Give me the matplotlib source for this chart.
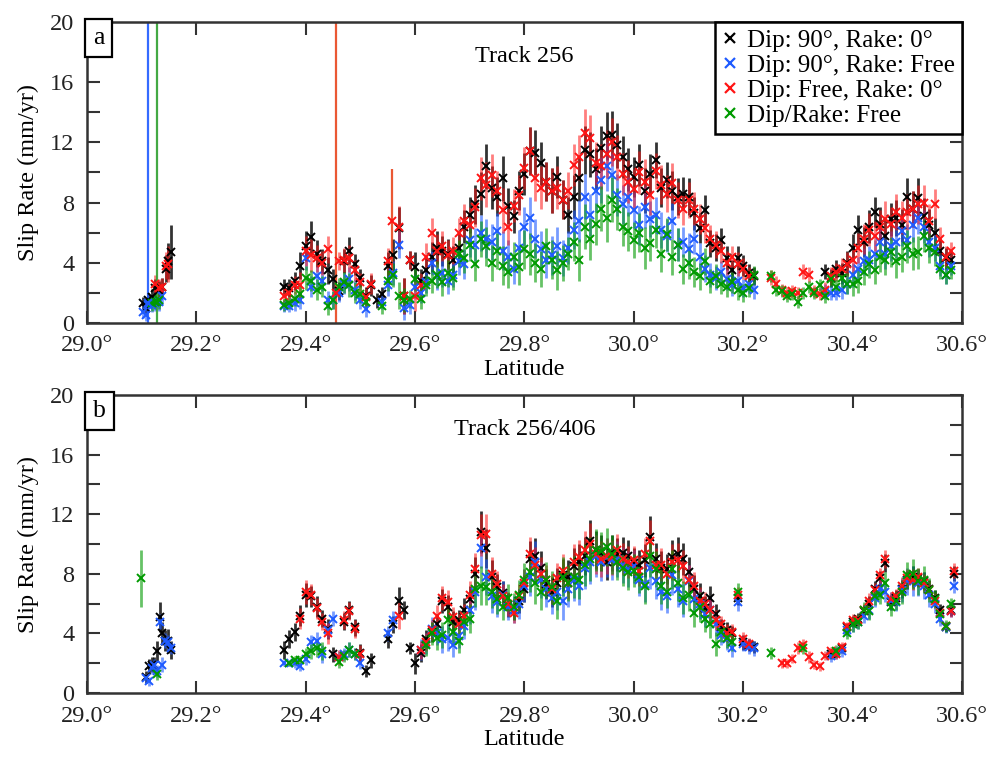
import numpy as np
import matplotlib
matplotlib.use('Agg')
import matplotlib.pyplot as plt
from matplotlib.lines import Line2D
from matplotlib.ticker import MultipleLocator

plt.rcParams['font.family'] = ['Liberation Serif', 'DejaVu Serif']

nan = np.nan

# ---------------- Panel a: Track 256 ----------------
a_lat = [29.103, 29.108, 29.112, 29.118, 29.125, 29.132, 29.137, 29.144, 29.149, 29.154,
         29.36, 29.37, 29.38, 29.39, 29.40, 29.41, 29.42, 29.43, 29.44, 29.45,
         29.46, 29.47, 29.48, 29.49, 29.50, 29.51, 29.52, 29.53, 29.54, 29.55,
         29.56, 29.57, 29.58, 29.59, 29.60,
         29.61, 29.62, 29.63, 29.64, 29.65, 29.66, 29.67, 29.68, 29.69, 29.70,
         29.71, 29.72, 29.73, 29.74, 29.75, 29.76, 29.77, 29.78, 29.79, 29.80,
         29.81, 29.82, 29.83, 29.84, 29.85, 29.86, 29.87, 29.88, 29.89, 29.90,
         29.91, 29.92, 29.93, 29.94, 29.95, 29.96, 29.97, 29.98, 29.99, 30.00,
         30.01, 30.02, 30.03, 30.04, 30.05, 30.06, 30.07, 30.08, 30.09, 30.10,
         30.11, 30.12, 30.13, 30.14, 30.15, 30.16, 30.17, 30.18, 30.19, 30.20,
         30.21, 30.22,
         30.25, 30.26, 30.27, 30.28, 30.29, 30.30, 30.31, 30.32, 30.33, 30.34,
         30.35, 30.36, 30.37, 30.38, 30.39, 30.40, 30.41, 30.42, 30.43, 30.44,
         30.45, 30.46, 30.47, 30.48, 30.49, 30.50, 30.51, 30.52, 30.53, 30.54,
         30.55, 30.56, 30.57, 30.58]

a_dip90_rake0 = [1.3, 1.0, 1.5, 1.75, 2.3, 2.2, 2.4, 3.6, 4.1, 4.7,
                 2.4, 2.3, 2.8, 3.8, 5.1, 5.7, 4.6, 4.1, 3.5, 2.9,
                 2.1, 4.1, 4.8, 3.9, 3.0, 1.8, 2.5, 1.5, 1.9, 3.8,
                 4.5, 6.3, 1.8, 4.2, 3.7,
                 2.8, 3.5, 4.4, 5.0, 4.8, 4.6, 4.2, 5.0, 6.4, 7.2,
                 7.9, 8.6, 10.4, 9.0, 8.4, 9.6, 7.8, 7.1, 8.8, 9.9,
                 11.4, 11.3, 10.6, 9.4, 8.8, 9.7, 8.2, 7.2, 8.4, 9.6,
                 11.5, 11.2, 10.2, 11.6, 12.4, 12.5, 11.8, 11.0, 10.2, 9.7,
                 10.5, 8.8, 9.9, 10.8, 9.0, 9.5, 8.8, 8.4, 8.6, 8.4,
                 7.3, 6.3, 7.5, 5.3, 5.0, 5.5, 4.3, 3.5, 4.3, 3.8,
                 3.3, 3.1,
                 nan, nan, nan, nan, nan, nan, nan, nan, nan, nan,
                 3.4, 3.0, 3.6, 3.3, 4.0, 5.0, 6.2, 5.4, 6.4, 7.4,
                 6.6, 5.8, 6.9, 7.0, 6.5, 8.4, 7.6, 8.3, 7.1, 6.5,
                 6.0, 4.8, 4.3, 4.2]

a_dip90_rakefree = [0.7, 0.5, 1.2, 1.2, 1.3, 1.4, 1.8, nan, nan, nan,
                    1.1, 1.1, 1.3, 1.5, 4.3, 2.4, 3.1, 2.8, 1.5, 1.5,
                    2.0, 2.6, 2.9, 2.2, 1.5, 0.9, nan, nan, 1.4, 2.5,
                    3.3, 5.2, 1.0, 1.2, 2.4,
                    2.0, 2.7, 4.0, 3.1, 3.3, 2.8, 3.2, 4.1, 3.9, 5.5,
                    5.2, 6.0, 5.6, 5.4, 6.1, 4.8, 4.4, 3.6, 5.0, 6.4,
                    7.0, 5.6, 4.9, 4.2, 4.5, 5.1, 4.3, 5.0, 6.2, 6.8,
                    8.4, 7.2, 8.8, 9.5, 10.4, 9.8, 8.5, 7.9, 8.4, 7.5,
                    6.5, 7.7, 6.9, 7.2, 6.2, 5.8, 6.8, 5.2, 5.4, 4.9,
                    5.6, 4.4, 3.6, 3.2, 3.0, 3.4, 2.9, 2.5, 2.8, 2.3,
                    2.6, 2.2,
                    nan, nan, nan, nan, nan, nan, nan, nan, nan, nan,
                    2.1, 2.0, 2.0, 2.2, 2.6, 3.2, 3.6, 4.1, 4.2, 4.6,
                    5.4, 4.6, 5.1, 5.4, 6.1, 5.5, 6.5, 7.0, 6.4, 5.4,
                    5.0, 3.8, 3.2, 3.8]

a_dipfree_rake0 = [nan, nan, nan, nan, 2.6, 2.3, 2.4, 3.8, 3.9, nan,
                   1.8, 2.0, 2.5, 2.5, 4.8, 4.5, 4.3, 4.0, 4.9, nan,
                   4.1, 4.2, 4.3, 3.5, 2.7, 1.7, 2.6, nan, nan, 4.1,
                   nan, 6.4, 1.8, 4.2, 1.8,
                   2.5, 4.4, 6.0, 4.8, 5.1, 4.5, 4.8, 6.0, 6.8, 6.5,
                   7.7, 9.6, 9.2, 9.8, 8.8, 7.5, 6.4, 7.8, 8.5, 10.3,
                   11.4, 9.6, 9.0, 9.4, 8.8, 9.0, 8.2, 8.8, 10.5, 11.0,
                   12.6, 12.3, 10.6, 10.4, 11.2, 12.0, 11.0, 9.9, 9.4, 8.9,
                   10.0, 9.4, 8.5, 10.1, 9.2, 8.6, 9.3, 8.2, 7.6, 8.2,
                   7.6, 6.9, 6.3, 5.6, 5.2, 4.8, 4.0, 4.4, 3.9, 3.6,
                   3.1, nan,
                   3.0, 2.6, 2.2, 2.0, 2.1, 2.0, 3.4, 3.2, 2.1, 1.9,
                   2.2, 3.1, 3.4, 3.6, 3.9, 4.2, 5.0, 5.6, 6.2, 5.8,
                   6.4, 6.9, 6.6, 7.4, 7.0, 7.4, 7.6, 7.9, 8.0, 6.8,
                   7.9, 5.6, 4.4, 4.8]

a_dip_rake_free = [nan, nan, nan, 1.3, 1.4, 1.5, nan, nan, nan, nan,
                   1.2, 1.3, 1.6, 1.9, 3.0, 2.8, 2.2, 2.4, 1.1, 1.5,
                   2.4, 2.7, 2.5, 2.0, 1.9, 1.4, nan, nan, 1.1, 2.8,
                   3.2, 1.8, 1.5, 1.6, 2.9,
                   1.6, 2.5, 2.8, 3.2, 2.7, 3.3, 3.0, 4.6, 4.3, 5.2,
                   3.9, 5.6, 5.1, 4.0, 4.8, 3.8, 3.4, 4.4, 3.7, 4.9,
                   4.6, 4.0, 3.6, 5.1, 4.2, 3.5, 4.0, 4.6, 5.4, 4.2,
                   6.4, 5.6, 6.6, 7.6, 7.0, 8.2, 7.6, 6.4, 6.1, 5.5,
                   6.0, 5.0, 5.3, 6.2, 4.6, 5.9, 4.4, 5.2, 3.6, 4.0,
                   3.4, 3.1, 4.1, 2.8, 3.1, 2.6, 2.4, 2.7, 2.2, 2.0,
                   2.3, 3.2,
                   3.1, 2.2, 2.1, 1.8, 1.9, 1.4, 2.0, 2.4, 2.0, 2.5,
                   1.8, 2.9, 2.4, 3.0, 2.6, 2.6, 2.8, 3.4, 3.9, 3.5,
                   4.4, 4.2, 4.7, 4.1, 4.4, 5.1, 4.6, 4.7, 5.8, 5.0,
                   4.7, 3.6, 3.2, 3.5]

# 1-sigma half-lengths: fixed-rake models (black, red) and free-rake models (blue, green)
a_err_fixed = [0.4, 0.4, 0.5, 0.5, 0.6, 0.6, 0.6, 0.9, 1.2, 1.8,
               0.5, 0.6, 0.6, 0.9, 1.0, 1.1, 0.9, 0.8, 0.9, 0.7,
               0.6, 0.8, 0.9, 0.7, 0.6, 0.6, 0.7, 0.5, 0.5, 0.9,
               1.1, 1.4, 1.2, 0.6, 1.0,
               0.8, 0.9, 1.0, 1.1, 1.0, 1.0, 0.9, 1.0, 1.1, 1.2,
               1.3, 1.4, 1.5, 1.4, 1.3, 1.5, 1.2, 1.1, 1.3, 1.4,
               1.6, 1.5, 1.4, 1.3, 1.5, 1.4, 1.3, 1.2, 1.4, 1.5,
               1.6, 1.5, 1.4, 1.5, 1.6, 1.6, 1.5, 1.4, 1.4, 1.3,
               1.4, 1.5, 1.3, 1.2, 1.3, 1.2, 1.3, 1.2, 1.1, 1.2,
               1.1, 1.0, 1.0, 0.9, 0.9, 0.8, 0.8, 0.7, 0.8, 0.7,
               0.6, 0.6,
               0.5, 0.5, 0.4, 0.4, 0.4, 0.4, 0.5, 0.5, 0.4, 0.4,
               0.5, 0.6, 0.6, 0.7, 0.8, 0.9, 1.0, 1.0, 1.1, 1.0,
               1.1, 1.2, 1.1, 1.2, 1.1, 1.2, 1.2, 1.3, 1.2, 1.1,
               1.0, 0.8, 0.7, 0.6]

a_err_free = [0.4, 0.4, 0.5, 0.5, 0.5, 0.6, 0.6, 0.6, 0.7, 0.8,
              0.4, 0.4, 0.5, 0.6, 0.8, 0.7, 0.7, 0.7, 0.6, 0.6,
              0.6, 0.7, 0.8, 0.7, 0.6, 0.5, 0.5, 0.5, 0.5, 0.7,
              0.8, 0.9, 0.8, 0.6, 0.8,
              0.7, 0.7, 0.8, 0.9, 0.9, 0.9, 0.8, 0.9, 1.0, 1.1,
              1.1, 1.2, 1.3, 1.2, 1.2, 1.3, 1.1, 1.0, 1.2, 1.3,
              1.4, 1.3, 1.2, 1.2, 1.3, 1.3, 1.2, 1.1, 1.3, 1.4,
              1.5, 1.4, 1.4, 1.5, 1.6, 1.5, 1.4, 1.3, 1.3, 1.2,
              1.3, 1.4, 1.2, 1.2, 1.2, 1.1, 1.2, 1.1, 1.0, 1.1,
              1.0, 0.9, 0.9, 0.8, 0.8, 0.7, 0.7, 0.7, 0.7, 0.6,
              0.6, 0.6,
              0.4, 0.4, 0.4, 0.4, 0.4, 0.4, 0.4, 0.4, 0.4, 0.4,
              0.5, 0.5, 0.5, 0.6, 0.7, 0.8, 0.8, 0.9, 0.9, 0.9,
              1.0, 1.0, 1.0, 1.1, 1.0, 1.1, 1.1, 1.1, 1.1, 1.0,
              0.9, 0.7, 0.6, 0.6]

# poorly constrained points (very long error bars)
a_spike_lat = [29.111, 29.128, 29.455, 29.558]
a_spike_val = [1.3, 1.4, 2.0, 6.8]
a_spike_err = [30.0, 30.0, 30.0, 3.4]
a_spike_model = [1, 3, 2, 2]

# ---------------- Panel b: Track 256/406 ----------------
b_lat = [29.099, 29.108, 29.113, 29.118, 29.123, 29.128, 29.133, 29.138, 29.143, 29.148, 29.153,
         29.36, 29.37, 29.38, 29.39, 29.40, 29.41, 29.42, 29.43, 29.44, 29.45,
         29.46, 29.47, 29.48, 29.49, 29.50, 29.51, 29.52, 29.53, 29.54, 29.55,
         29.56, 29.57, 29.58, 29.59, 29.60,
         29.61, 29.62, 29.63, 29.64, 29.65, 29.66, 29.67, 29.68, 29.69, 29.70,
         29.71, 29.72, 29.73, 29.74, 29.75, 29.76, 29.77, 29.78, 29.79, 29.80,
         29.81, 29.82, 29.83, 29.84, 29.85, 29.86, 29.87, 29.88, 29.89, 29.90,
         29.91, 29.92, 29.93, 29.94, 29.95, 29.96, 29.97, 29.98, 29.99, 30.00,
         30.01, 30.02, 30.03, 30.04, 30.05, 30.06, 30.07, 30.08, 30.09, 30.10,
         30.11, 30.12, 30.13, 30.14, 30.15, 30.16, 30.17, 30.18, 30.19, 30.20,
         30.21, 30.22,
         30.25, 30.26, 30.27, 30.28, 30.29, 30.30, 30.31, 30.32, 30.33, 30.34,
         30.35, 30.36, 30.37, 30.38, 30.39, 30.40, 30.41, 30.42, 30.43, 30.44,
         30.45, 30.46, 30.47, 30.48, 30.49, 30.50, 30.51, 30.52, 30.53, 30.54,
         30.55, 30.56, 30.57, 30.58, 30.585]

b_dip90_rake0 = [nan, 1.1, 1.8, 1.9, 1.9, 2.8, 5.1, 4.0, 3.5, 3.5, 2.9,
                 2.9, 3.6, 4.1, 5.2, 6.6, 6.5, 5.8, 5.0, 4.3, 2.6,
                 nan, 4.8, 5.6, 4.4, 2.7, 1.5, 2.2, nan, nan, 3.6,
                 4.6, 6.2, 5.6, 3.0, 2.0,
                 2.7, 3.6, 4.1, 4.6, 6.2, 5.8, 4.8, 4.9, 5.6, 6.3,
                 8.0, 10.8, 9.7, 7.8, 7.1, 6.7, 5.9, 5.6, 6.2, 7.0,
                 9.0, 9.2, 8.4, 7.3, 6.8, 7.4, 7.9, 7.8, 8.5, 8.8,
                 9.2, 10.2, 9.6, 9.4, 8.8, 9.4, 9.3, 9.4, 9.2, 8.7,
                 8.6, 8.9, 10.5, 9.0, 8.4, 8.3, 9.1, 9.3, 9.0, 8.1,
                 7.0, 6.5, 5.7, 6.4, 5.3, 4.4, 4.2, 4.0, 6.4, 3.4,
                 3.2, 3.1,
                 nan, nan, nan, nan, nan, nan, nan, nan, nan, nan,
                 nan, 2.6, 2.7, 3.0, 4.4, 4.8, 5.0, 5.5, 6.0, 7.0,
                 7.7, 8.7, 6.1, 6.4, 7.0, 7.6, 7.8, 7.7, 7.5, 7.0,
                 6.4, 5.6, 4.4, 5.6, 8.0]

b_dip90_rakefree = [nan, 1.0, 0.8, 1.7, 1.9, 1.5, 4.8, 1.9, 3.5, 3.4, 3.0,
                    2.0, 2.0, 2.0, 1.8, 2.3, 3.4, 3.5, 2.6, 4.2, 5.0,
                    2.4, 2.6, 2.9, 2.6, 2.0, nan, nan, nan, nan, 4.0,
                    4.9, nan, nan, nan, nan,
                    2.9, 3.3, 4.3, 4.0, 3.6, 3.7, 3.2, 3.8, 4.5, 5.6,
                    6.8, 9.7, 7.8, 6.5, 6.1, 6.6, 5.8, 5.6, 6.0, 7.2,
                    7.8, 8.8, 7.6, 7.0, 6.4, 6.8, 6.2, 7.0, 7.6, 7.2,
                    8.4, 8.8, 9.2, 8.8, 9.1, 8.9, 9.0, 8.6, 8.3, 8.5,
                    7.6, 7.3, 8.4, 7.5, 6.8, 6.5, 7.9, 7.0, 6.2, 7.5,
                    6.3, 6.0, 5.3, 5.6, 4.6, 3.9, 3.6, 3.0, 6.1, 3.3,
                    3.1, 3.0,
                    nan, nan, nan, nan, nan, nan, nan, nan, nan, nan,
                    nan, 2.5, 2.7, 2.8, 4.2, 4.6, 4.8, 5.2, 5.6, 6.4,
                    7.0, 6.8, 6.2, 6.1, 6.9, 7.5, 7.5, 7.4, 7.2, 6.6,
                    6.0, 5.0, 4.4, 5.5, 7.2]

b_dipfree_rake0 = [nan, nan, nan, nan, nan, nan, nan, nan, nan, nan, nan,
                   nan, nan, nan, 5.0, 6.8, 6.6, 5.7, 4.8, 4.0, nan,
                   2.4, 4.9, 5.5, 4.3, 2.6, nan, nan, nan, nan, nan,
                   nan, 5.2, nan, nan, nan,
                   2.9, 3.4, 4.2, 5.2, 6.4, 6.1, 5.1, 4.6, 5.2, 6.6,
                   8.3, 10.6, 10.7, 8.0, 7.3, 6.5, 6.0, 5.4, 6.5, 7.4,
                   9.3, 8.6, 8.0, 7.6, 7.0, 7.7, 8.2, 7.4, 8.8, 9.1,
                   9.6, 10.0, 9.3, 9.0, 9.2, 9.1, 9.6, 9.0, 8.8, 8.9,
                   8.2, 9.3, 10.2, 8.6, 8.6, 8.0, 8.8, 8.9, 8.5, 7.6,
                   7.2, 6.2, 6.0, 5.6, 4.9, 4.6, 4.0, 4.1, 6.6, 3.6,
                   3.3, nan,
                   nan, nan, 2.0, 2.0, 2.3, 3.0, 3.2, 2.4, 1.9, 1.8,
                   2.5, 2.8, 2.6, 3.1, 4.5, 4.9, 4.9, 5.6, 6.2, 6.9,
                   7.9, 9.0, 6.3, 6.5, 7.2, 7.7, 7.6, 7.8, 7.4, 6.9,
                   6.2, 5.4, 4.5, 5.5, 8.2]

b_dip_rake_free = [7.7, nan, nan, nan, nan, 1.3, nan, nan, nan, nan, nan,
                   nan, 2.0, 2.2, 2.2, 2.6, 2.8, 3.0, 2.8, nan, nan,
                   2.1, 2.5, 2.9, 2.6, nan, nan, nan, nan, nan, nan,
                   nan, nan, nan, nan, nan,
                   nan, 3.2, 4.0, 3.7, 3.9, 4.9, 4.1, 3.5, 4.8, 5.0,
                   7.0, 7.2, 7.1, 6.8, 6.3, 5.8, 6.4, 5.8, 6.6, 7.6,
                   8.1, 7.4, 6.8, 7.6, 7.1, 6.2, 7.8, 7.4, 7.8, 7.6,
                   8.6, 9.0, 9.6, 9.5, 9.8, 9.3, 8.8, 8.4, 8.1, 8.2,
                   7.8, 7.2, 9.2, 8.3, 7.2, 6.8, 8.3, 7.4, 6.4, 6.6,
                   5.4, 5.8, 5.0, 4.6, 3.3, 4.1, 3.7, 3.4, 6.8, nan,
                   nan, nan,
                   2.7, nan, nan, nan, nan, nan, 3.0, nan, nan, nan,
                   nan, nan, 2.8, nan, 4.0, 4.6, 4.8, 5.6, 5.5, 6.5,
                   6.6, 7.4, 5.8, 6.2, 6.8, 7.9, 8.0, 7.5, 7.6, 6.9,
                   6.3, 5.3, 4.5, 6.0, nan]

b_err_fixed = [0.5, 0.4, 0.5, 0.5, 0.5, 0.7, 1.0, 0.8, 0.7, 0.8, 0.6,
               0.6, 0.6, 0.6, 0.7, 0.8, 0.7, 0.7, 0.6, 0.7, 0.5,
               0.5, 0.6, 0.6, 0.6, 0.6, 0.4, 0.5, 0.4, 0.4, 0.6,
               0.6, 0.9, 0.6, 0.4, 0.7,
               0.6, 0.6, 0.7, 0.7, 0.8, 0.8, 0.7, 0.7, 0.8, 0.9,
               1.1, 1.4, 1.3, 1.1, 0.9, 0.8, 0.8, 0.7, 0.8, 0.9,
               1.2, 1.2, 1.1, 1.0, 1.0, 1.0, 1.1, 1.1, 1.2, 1.2,
               1.3, 1.4, 1.3, 1.2, 1.2, 1.2, 1.1, 1.1, 1.1, 1.0,
               1.0, 1.1, 1.4, 1.1, 1.1, 1.0, 1.2, 1.2, 1.1, 1.0,
               0.9, 0.9, 0.8, 0.8, 0.7, 0.6, 0.6, 0.5, 0.5, 0.5,
               0.4, 0.4,
               0.3, 0.3, 0.3, 0.3, 0.3, 0.4, 0.4, 0.4, 0.3, 0.3,
               0.3, 0.3, 0.3, 0.3, 0.3, 0.4, 0.4, 0.4, 0.5, 0.5,
               0.5, 0.6, 0.5, 0.5, 0.6, 0.6, 0.7, 0.6, 0.6, 0.6,
               0.5, 0.4, 0.3, 0.4, 0.5]

b_err_free = [1.9, 0.3, 0.3, 0.4, 0.4, 0.4, 0.5, 0.5, 0.5, 0.5, 0.4,
              0.2, 0.2, 0.3, 0.3, 0.4, 0.5, 0.6, 0.6, 0.5, 0.5,
              0.4, 0.4, 0.5, 0.4, 0.4, 0.3, 0.3, 0.3, 0.3, 0.5,
              0.6, 0.6, 0.4, 0.3, 0.4,
              0.7, 0.7, 0.8, 0.8, 0.9, 0.9, 0.8, 0.8, 0.9, 1.0,
              1.2, 1.3, 1.2, 1.1, 1.0, 0.9, 0.9, 0.9, 1.0, 1.1,
              1.3, 1.4, 1.2, 1.2, 1.1, 1.2, 1.3, 1.2, 1.4, 1.3,
              1.4, 1.5, 1.4, 1.3, 1.3, 1.3, 1.2, 1.2, 1.2, 1.1,
              1.1, 1.2, 1.4, 1.2, 1.2, 1.1, 1.3, 1.2, 1.1, 1.1,
              1.0, 1.0, 0.9, 0.9, 0.8, 0.7, 0.7, 0.6, 0.6, 0.5,
              0.5, 0.5,
              0.4, 0.4, 0.4, 0.4, 0.4, 0.4, 0.4, 0.4, 0.4, 0.4,
              0.4, 0.4, 0.4, 0.4, 0.4, 0.5, 0.5, 0.5, 0.6, 0.6,
              0.6, 0.7, 0.6, 0.6, 0.8, 0.9, 1.0, 0.9, 0.9, 0.8,
              0.6, 0.5, 0.4, 0.4, 0.5]

model_labels = ['Dip: 90°, Rake: 0°', 'Dip: 90°, Rake: Free',
                'Dip: Free, Rake: 0°', 'Dip/Rake: Free']
x_ticks = [29.0, 29.2, 29.4, 29.6, 29.8, 30.0, 30.2, 30.4, 30.6]
y_ticks = [0, 4, 8, 12, 16, 20]

# ---------------- styling ----------------
colors = ['#000000', '#1f5bff', '#ff1414', '#009a00']
spike_colors = ['#000000', '#1f5bff', '#e8461e', '#30a030']
bar_alpha = [0.8, 0.6, 0.55, 0.6]
FS = 17.5

fig = plt.figure(figsize=(10.02, 7.63), dpi=100)
ax_a = fig.add_axes([0.0868, 0.5767, 0.8733, 0.3945])
ax_b = fig.add_axes([0.0868, 0.0917, 0.8733, 0.3906])


def draw_panel(ax, lat, series, errs, spikes=None):
    lat = np.asarray(lat, float)
    for s in series:
        assert len(s) == len(lat), (len(s), len(lat))
    for e in errs:
        assert len(e) == len(lat), (len(e), len(lat))
    err_for = [errs[0], errs[1], errs[0], errs[1]]
    # draw order: green, blue, red, black (black on top)
    for idx in [3, 1, 2, 0]:
        v = np.asarray(series[idx], float)
        e = np.asarray(err_for[idx], float)
        ax.errorbar(lat, v, yerr=e, fmt='none', ecolor=colors[idx],
                    elinewidth=2.0, alpha=bar_alpha[idx], capsize=0, zorder=2 + idx * 0.1)
        ax.plot(lat, v, 'x', color=colors[idx], ms=5.5, mew=1.4, zorder=3 + idx * 0.1)
    if spikes is not None:
        for sl, sv, se, sm in zip(*spikes):
            ax.errorbar([sl], [sv], yerr=[se], fmt='none', ecolor=spike_colors[sm],
                        elinewidth=1.6, alpha=0.9, capsize=0, zorder=2.5)
            ax.plot([sl], [sv], 'x', color=colors[sm], ms=5.5, mew=1.4, zorder=3.5)


draw_panel(ax_a, a_lat,
           [a_dip90_rake0, a_dip90_rakefree, a_dipfree_rake0, a_dip_rake_free],
           [a_err_fixed, a_err_free],
           spikes=(a_spike_lat, a_spike_val, a_spike_err, a_spike_model))
draw_panel(ax_b, b_lat,
           [b_dip90_rake0, b_dip90_rakefree, b_dipfree_rake0, b_dip_rake_free],
           [b_err_fixed, b_err_free])

for ax, letter, title in [(ax_a, 'a', 'Track 256'), (ax_b, 'b', 'Track 256/406')]:
    ax.set_xlim(29.0, 30.6)
    ax.set_ylim(0, 20)
    ax.set_xticks(x_ticks)
    ax.set_xticklabels([f'{t:.1f}°' for t in x_ticks])
    ax.set_yticks(y_ticks)
    ax.yaxis.set_minor_locator(MultipleLocator(2))
    ax.tick_params(which='both', direction='in', top=True, right=True,
                   length=9, width=1.5, color='#333333', labelsize=FS,
                   labelcolor='#222222')
    ax.tick_params(axis='x', pad=9)
    ax.tick_params(axis='y', pad=9)
    for sp in ax.spines.values():
        sp.set_linewidth(1.8)
        sp.set_color('#333333')
    ax.set_xlabel('Latitude', fontsize=FS, labelpad=2)
    ax.set_ylabel('Slip Rate (mm/yr)', fontsize=FS, labelpad=8)
    ax.text(0.5, 0.885, title, transform=ax.transAxes, ha='center', va='center',
            fontsize=FS)
    ax.text(0.007, 0.983, letter, transform=ax.transAxes, ha='left', va='top',
            fontsize=FS + 1, zorder=10,
            bbox=dict(boxstyle='square,pad=0.3', fc='white', ec='black', lw=1.6))

handles = [Line2D([], [], marker='x', ls='none', color=c, ms=7, mew=1.6) for c in colors]
leg = ax_a.legend(handles, model_labels, loc='upper right', borderaxespad=0.0,
                  fontsize=FS + 0.5, frameon=True, fancybox=False, framealpha=1,
                  handlelength=0.6, handletextpad=0.35, labelspacing=0.1,
                  borderpad=0.3)
leg.get_frame().set_edgecolor('black')
leg.get_frame().set_linewidth(1.8)
leg.set_zorder(20)

fig.savefig('out.png', dpi=100)
